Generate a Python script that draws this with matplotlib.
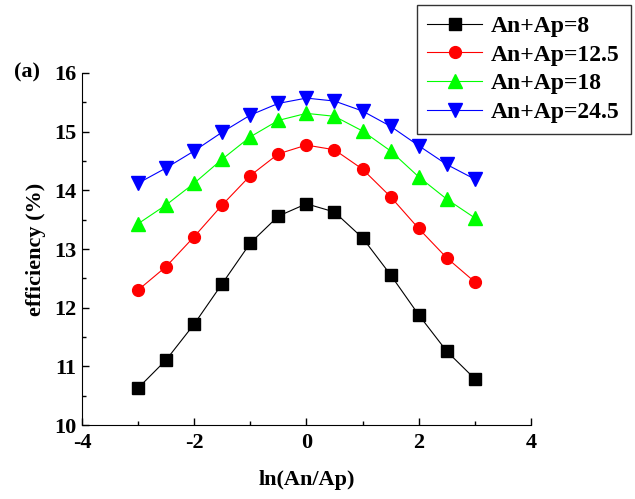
import numpy as np
import matplotlib.pyplot as plt
from matplotlib.ticker import MultipleLocator

# ln(An/Ap)
x = [-3, -2.5, -2, -1.5, -1, -0.5, 0, 0.5, 1, 1.5, 2, 2.5, 3]

# efficiency (%) for each An+Ap
eff_8 = [10.63, 11.11, 11.72, 12.41, 13.10, 13.56, 13.77, 13.63, 13.19, 12.56, 11.88, 11.26, 10.79]
eff_12_5 = [12.30, 12.70, 13.21, 13.75, 14.25, 14.62, 14.77, 14.69, 14.36, 13.89, 13.35, 12.85, 12.44]
eff_18 = [13.43, 13.75, 14.12, 14.53, 14.91, 15.19, 15.31, 15.26, 15.01, 14.67, 14.23, 13.85, 13.53]
eff_24_5 = [14.12, 14.38, 14.67, 14.99, 15.28, 15.48, 15.57, 15.52, 15.35, 15.09, 14.76, 14.44, 14.19]

labels = ['An+Ap=8', 'An+Ap=12.5', 'An+Ap=18', 'An+Ap=24.5']

plt.rcParams['font.family'] = ['Liberation Serif', 'DejaVu Serif']
plt.rcParams['font.weight'] = 'bold'
plt.rcParams['axes.unicode_minus'] = False

fig = plt.figure(figsize=(6.35, 4.99), dpi=100)
ax = fig.add_axes([0.129, 0.148, 0.707, 0.706])

series = [
    (eff_8, 'black', 's', 8),
    (eff_12_5, '#ff0000', 'o', 8.5),
    (eff_18, '#00ff00', '^', 9.5),
    (eff_24_5, '#0000ff', 'v', 9.5),
]
for (y, c, m, ms), lab in zip(series, labels):
    ax.plot(x, y, color=c, marker=m, markersize=ms, linewidth=0.8, label=lab)

ax.set_xlim(-4, 4)
ax.set_ylim(10, 16)
ax.xaxis.set_major_locator(MultipleLocator(2))
ax.xaxis.set_minor_locator(MultipleLocator(1))
ax.yaxis.set_major_locator(MultipleLocator(1))
ax.yaxis.set_minor_locator(MultipleLocator(0.5))
ax.tick_params(which='both', direction='in', labelsize=16, width=1)
ax.tick_params(which='major', length=5)
ax.tick_params(which='minor', length=3)
ax.tick_params(axis='x', pad=6)
ax.tick_params(axis='y', pad=4)
for s in ['top', 'right']:
    ax.spines[s].set_visible(False)

ax.set_xlabel('ln(An/Ap)', fontsize=16, fontweight='bold', labelpad=12)
ax.set_ylabel('efficiency (%)', fontsize=16, fontweight='bold', labelpad=6)
fig.text(0.022, 0.845, '(a)', fontsize=16, fontweight='bold')

leg = fig.legend(loc='upper right', bbox_to_anchor=(0.993, 0.99), fontsize=17,
                 frameon=True, fancybox=False, edgecolor='black',
                 handlelength=2.3, handletextpad=0.4, borderpad=0.45,
                 labelspacing=0.3, borderaxespad=0)
leg.get_frame().set_linewidth(1)

fig.savefig('out.png', dpi=100)
